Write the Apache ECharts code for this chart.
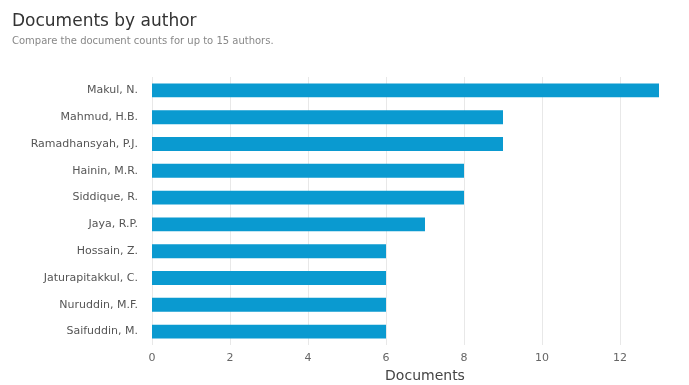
<!DOCTYPE html>
<html><head><meta charset="utf-8">
<script src="https://cdn.jsdelivr.net/npm/echarts@6/dist/echarts.min.js"></script>
<style>html,body{margin:0;padding:0;background:#fff}#c{width:689px;height:385px}</style>
</head><body><div id="c"></div>
<script>
var authors = ["Makul, N.","Mahmud, H.B.","Ramadhansyah, P.J.","Hainin, M.R.","Siddique, R.","Jaya, R.P.","Hossain, Z.","Jaturapitakkul, C.","Nuruddin, M.F.","Saifuddin, M."];
var documents = [13,9,9,8,8,7,6,6,6,6];
var xTicks = [0,2,4,6,8,10,12,14];
var F = 'DejaVu Sans';
var chart = echarts.init(document.getElementById('c'));
chart.setOption({
  animation:false,
  title:{text:'Documents by author',subtext:'Compare the document counts for up to 15 authors.',left:7,top:8,
    textStyle:{fontSize:17,fontWeight:'normal',color:'#333',fontFamily:F},
    subtextStyle:{fontSize:10,color:'#888',fontFamily:F},itemGap:6},
  grid:{left:152,top:77,width:546,height:268,containLabel:false,outerBoundsMode:'none'},
  xAxis:{type:'value',min:xTicks[0],max:xTicks[xTicks.length-1],interval:2,name:'Documents',nameLocation:'middle',nameGap:24,
    nameTextStyle:{fontSize:14,color:'#444',fontFamily:F},
    axisLabel:{color:'#666',fontSize:11,fontFamily:F},
    splitLine:{lineStyle:{color:'#e8e8e8'}},axisLine:{show:false},axisTick:{show:false}},
  yAxis:{type:'category',data:authors,inverse:true,
    axisLabel:{color:'#555',fontSize:11,fontFamily:F,margin:14},
    axisLine:{show:false},axisTick:{show:false}},
  series:[{type:'bar',data:documents,barWidth:'52%',itemStyle:{color:'#0a9ad0'}}]
});
</script></body></html>
